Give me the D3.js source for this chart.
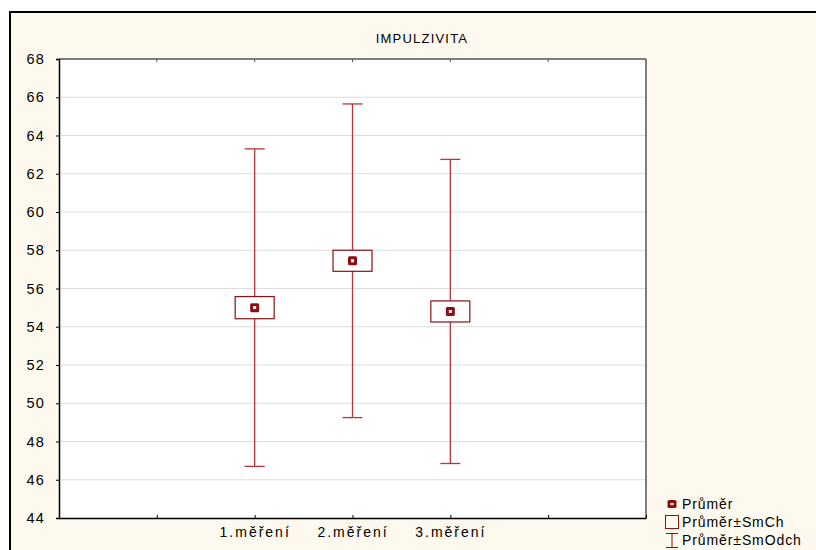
<!DOCTYPE html>
<html>
<head>
<meta charset="utf-8">
<script src="https://cdn.jsdelivr.net/npm/d3@7"></script>
<style>
body{margin:0;background:#fff}
text{font-family:Arial,"Liberation Sans",sans-serif}
</style>
</head>
<body>
<script>
var categories=["1.měření","2.měření","3.měření"]
var means=[55.0,57.45,54.8]
var smCh=[0.58,0.55,0.55]
var smOdch=[8.3,8.2,7.95]
var yTicks=[44,46,48,50,52,54,56,58,60,62,64,66,68]

var screen={width:816,height:550}
var plotBox={left:59,right:646,top:59,bottom:518}
var dark="#8b0f14", light="#b5373c"

var svg=d3.select("body").append("svg")
  .attr('width',screen.width)
  .attr('height',screen.height)

// frame
svg.append("rect")
  .attr('x',10).attr('y',12)
  .attr('width',screen.width+20).attr('height',screen.height+20)
  .attr('fill','#fef9ee')
  .attr('stroke','#000').attr('stroke-width',2)

svg.append("rect")
  .attr('x',plotBox.left).attr('y',plotBox.top)
  .attr('width',plotBox.right-plotBox.left).attr('height',plotBox.bottom-plotBox.top)
  .attr('fill','#fff')

//scale
var xScale=d3.scaleLinear().domain([0,6]).range([plotBox.left,plotBox.right])
var yScale=d3.scaleLinear().domain([44,68]).range([plotBox.bottom,plotBox.top])

// grid
svg.append("g").selectAll("line")
  .data(yTicks.slice(1,-1))
  .enter().append("line")
  .attr('x1',plotBox.left).attr('x2',plotBox.right)
  .attr('y1',function(d){return yScale(d)}).attr('y2',function(d){return yScale(d)})
  .attr('stroke','#dcdcdc').attr('stroke-width',1)

// border
svg.append("line").attr('x1',plotBox.left).attr('x2',plotBox.right).attr('y1',plotBox.top).attr('y2',plotBox.top)
  .attr('stroke','#555').attr('stroke-width',1.5)
svg.append("line").attr('x1',plotBox.right).attr('x2',plotBox.right).attr('y1',plotBox.top).attr('y2',plotBox.bottom)
  .attr('stroke','#555').attr('stroke-width',1.5)

// axis
var yAxis=d3.axisLeft(yScale).tickValues(yTicks).tickSize(3).tickPadding(11)
var gy=svg.append("g").attr('transform','translate('+plotBox.left+',0)').call(yAxis)
gy.select(".domain").attr('stroke','#000').attr('stroke-width',1.5)
gy.selectAll("text").attr('font-size',14.5).attr('fill','#000').attr('letter-spacing',1.2)

var xAxis=d3.axisBottom(xScale).tickValues([0,1,2,3,4,5,6]).tickSizeInner(-3).tickSizeOuter(0)
  .tickFormat(function(d){return d>=2&&d<=4?categories[d-2]:""}).tickPadding(9)
var gx=svg.append("g").attr('transform','translate(0,'+plotBox.bottom+')').call(xAxis)
gx.select(".domain").attr('stroke','#000').attr('stroke-width',1.5)
gx.selectAll("text").attr('font-size',14).attr('fill','#000').attr('letter-spacing',2)

svg.append("g").selectAll("line")
  .data([1,2,3,4,5])
  .enter().append("line")
  .attr('x1',function(d){return xScale(d)}).attr('x2',function(d){return xScale(d)})
  .attr('y1',plotBox.top).attr('y2',plotBox.top+3)
  .attr('stroke','#555')

svg.append("text")
  .attr('x',422).attr('y',43)
  .attr('text-anchor','middle').attr('font-size',13).attr('letter-spacing',1.2)
  .text("IMPULZIVITA")

// draw marks
var g=svg.append("g").selectAll("g")
  .data(means)
  .enter().append("g")

g.append("line")
  .attr('x1',function(d,i){return xScale(i+2)}).attr('x2',function(d,i){return xScale(i+2)})
  .attr('y1',function(d,i){return yScale(d+smOdch[i])}).attr('y2',function(d,i){return yScale(d-smOdch[i])})
  .attr('stroke',light).attr('stroke-width',1.3)
g.append("line")
  .attr('x1',function(d,i){return xScale(i+2)-10}).attr('x2',function(d,i){return xScale(i+2)+10})
  .attr('y1',function(d,i){return yScale(d+smOdch[i])}).attr('y2',function(d,i){return yScale(d+smOdch[i])})
  .attr('stroke',light).attr('stroke-width',1.3)
g.append("line")
  .attr('x1',function(d,i){return xScale(i+2)-10}).attr('x2',function(d,i){return xScale(i+2)+10})
  .attr('y1',function(d,i){return yScale(d-smOdch[i])}).attr('y2',function(d,i){return yScale(d-smOdch[i])})
  .attr('stroke',light).attr('stroke-width',1.3)
g.append("rect")
  .attr('x',function(d,i){return xScale(i+2)-19.5})
  .attr('width',39)
  .attr('y',function(d,i){return yScale(d+smCh[i])})
  .attr('height',function(d,i){return yScale(d-smCh[i])-yScale(d+smCh[i])})
  .attr('fill','#fff').attr('stroke',dark).attr('stroke-width',1.2)
g.append("rect")
  .attr('x',function(d,i){return xScale(i+2)-4.5})
  .attr('y',function(d){return yScale(d)-4.5})
  .attr('width',9).attr('height',9).attr('rx',1.5)
  .attr('fill',dark)
g.append("rect")
  .attr('x',function(d,i){return xScale(i+2)-1.5})
  .attr('y',function(d){return yScale(d)-1.5})
  .attr('width',3).attr('height',3)
  .attr('fill','#fff')

// legend
var leg=svg.append("g").attr('font-size',14).attr('letter-spacing',0.9)
leg.append("rect").attr('x',667.5).attr('y',500).attr('width',9).attr('height',8).attr('rx',1.5).attr('fill',dark)
leg.append("rect").attr('x',670.5).attr('y',503).attr('width',3).attr('height',2).attr('fill','#fff')
leg.append("text").attr('x',682).attr('y',509).text("Průměr")
leg.append("rect").attr('x',665.5).attr('y',515.5).attr('width',13).attr('height',13).attr('fill','none').attr('stroke',dark)
leg.append("text").attr('x',682).attr('y',527).text("Průměr±SmCh")
leg.append("line").attr('x1',666).attr('x2',678).attr('y1',533.5).attr('y2',533.5).attr('stroke',dark)
leg.append("line").attr('x1',666).attr('x2',678).attr('y1',547.5).attr('y2',547.5).attr('stroke',dark)
leg.append("line").attr('x1',672).attr('x2',672).attr('y1',533.5).attr('y2',547.5).attr('stroke',dark)
leg.append("text").attr('x',682).attr('y',545).text("Průměr±SmOdch")
</script>
</body>
</html>
